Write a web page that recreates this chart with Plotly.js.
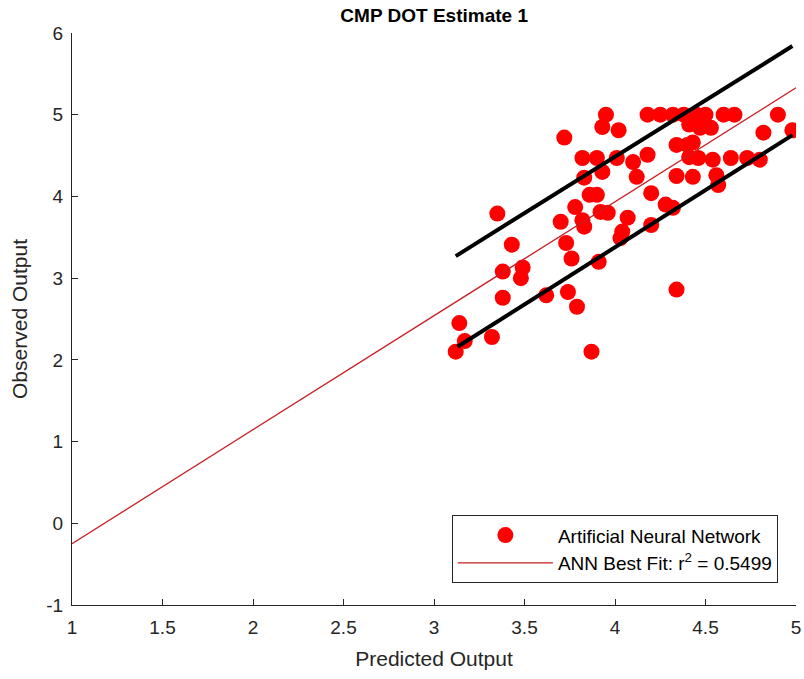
<!DOCTYPE html>
<html>
<head>
<meta charset="utf-8">
<script src="https://cdn.plot.ly/plotly-3.0.1.min.js"></script>
<style>html,body{margin:0;padding:0;background:#fff;}#chart{width:804px;height:679px;}</style>
</head>
<body>
<div id="chart"></div>
<script>
// Scatter data: predicted vs observed
const predicted = [3.12,3.14,3.17,3.32,3.35,3.38,3.38,3.43,3.48,3.49,3.62,3.70,3.72,3.73,3.74,3.76,3.78,3.79,3.82,3.82,3.83,3.83,3.86,3.87,3.90,3.90,3.91,3.92,3.93,3.93,3.95,3.96,4.01,4.02,4.03,4.04,4.07,4.10,4.12,4.18,4.18,4.20,4.20,4.25,4.28,4.32,4.34,4.34,4.34,4.32,4.38,4.43,4.41,4.43,4.47,4.45,4.46,4.41,4.53,4.54,4.56,4.57,4.50,4.64,4.60,4.66,4.73,4.80,4.82,4.90,4.98,4.40];
const observed  = [2.10,2.45,2.23,2.28,3.79,2.76,3.08,3.41,3.00,3.13,2.79,3.69,4.72,3.43,2.83,3.24,3.87,2.65,4.47,3.71,3.63,4.23,4.02,2.10,4.47,4.02,3.20,3.81,4.85,4.30,5.00,3.80,4.47,4.81,3.49,3.57,3.74,4.42,4.24,5.00,4.51,4.04,3.65,5.00,3.90,3.86,4.63,4.25,2.86,5.00,5.00,4.66,4.48,4.24,4.84,5.00,4.47,4.88,4.84,4.45,4.26,4.14,5.00,4.47,5.00,5.00,4.47,4.45,4.78,5.00,4.81,4.63];

// Best-fit line
const fitX = [1, 5];
const fitY = [-0.25, 5.33];

// Black band lines
const upperX = [3.12, 4.98];
const upperY = [3.27, 5.84];
const lowerX = [3.13, 4.98];
const lowerY = [2.16, 4.75];

const xTicks = [1, 1.5, 2, 2.5, 3, 3.5, 4, 4.5, 5];
const xTickText = ['1', '1.5', '2', '2.5', '3', '3.5', '4', '4.5', '5'];
const yTicks = [-1, 0, 1, 2, 3, 4, 5, 6];
const yTickText = ['-1', '0', '1', '2', '3', '4', '5', '6'];

const FONT = 'Liberation Sans, Arial, Helvetica, sans-serif';
const AX = '#262626';

const traces = [
  {
    x: predicted, y: observed, type: 'scatter', mode: 'markers',
    name: 'Artificial Neural Network',
    marker: {color: 'rgb(255,0,0)', size: 16, line: {width: 0}}
  },
  {
    x: fitX, y: fitY, type: 'scatter', mode: 'lines',
    name: 'ANN Best Fit: r<sup>2</sup> = 0.5499',
    line: {color: 'rgb(200,30,35)', width: 1.3}
  },
  {
    x: upperX, y: upperY, type: 'scatter', mode: 'lines', showlegend: false,
    line: {color: '#000', width: 4}
  },
  {
    x: lowerX, y: lowerY, type: 'scatter', mode: 'lines', showlegend: false,
    line: {color: '#000', width: 4}
  }
];

const layout = {
  width: 804, height: 679,
  margin: {l: 72, r: 8, t: 33, b: 74},
  paper_bgcolor: '#fff', plot_bgcolor: '#fff',
  font: {family: FONT, color: AX},
  title: {
    text: '<b>CMP DOT Estimate 1</b>',
    font: {family: FONT, size: 19, color: '#000'},
    x: 0.54, xanchor: 'center', y: 0.978, yanchor: 'middle'
  },
  xaxis: {
    range: [1, 5], tickvals: xTicks, ticktext: xTickText,
    ticks: 'inside', ticklen: 6, tickwidth: 1, tickcolor: AX,
    showline: true, linecolor: AX, linewidth: 1,
    showgrid: false, zeroline: false, ticklabelstandoff: 5,
    tickfont: {family: FONT, size: 19, color: AX},
    title: {text: 'Predicted Output', font: {family: FONT, size: 21, color: AX}, standoff: 14}
  },
  yaxis: {
    range: [-1, 6], tickvals: yTicks, ticktext: yTickText,
    ticks: 'inside', ticklen: 6, tickwidth: 1, tickcolor: AX,
    showline: true, linecolor: AX, linewidth: 1,
    showgrid: false, zeroline: false, ticklabelstandoff: 4,
    tickfont: {family: FONT, size: 19, color: AX},
    title: {text: 'Observed Output', font: {family: FONT, size: 21, color: AX}, standoff: 12}
  },
  legend: {
    x: 0.975, xanchor: 'right', y: 0.038, yanchor: 'bottom',
    bgcolor: '#fff', bordercolor: AX, borderwidth: 1,
    font: {family: FONT, size: 19, color: '#000'},
    itemwidth: 95, tracegroupgap: 0
  },
  showlegend: true
};

Plotly.newPlot('chart', traces, layout, {displayModeBar: false, staticPlot: true});
</script>
</body>
</html>
